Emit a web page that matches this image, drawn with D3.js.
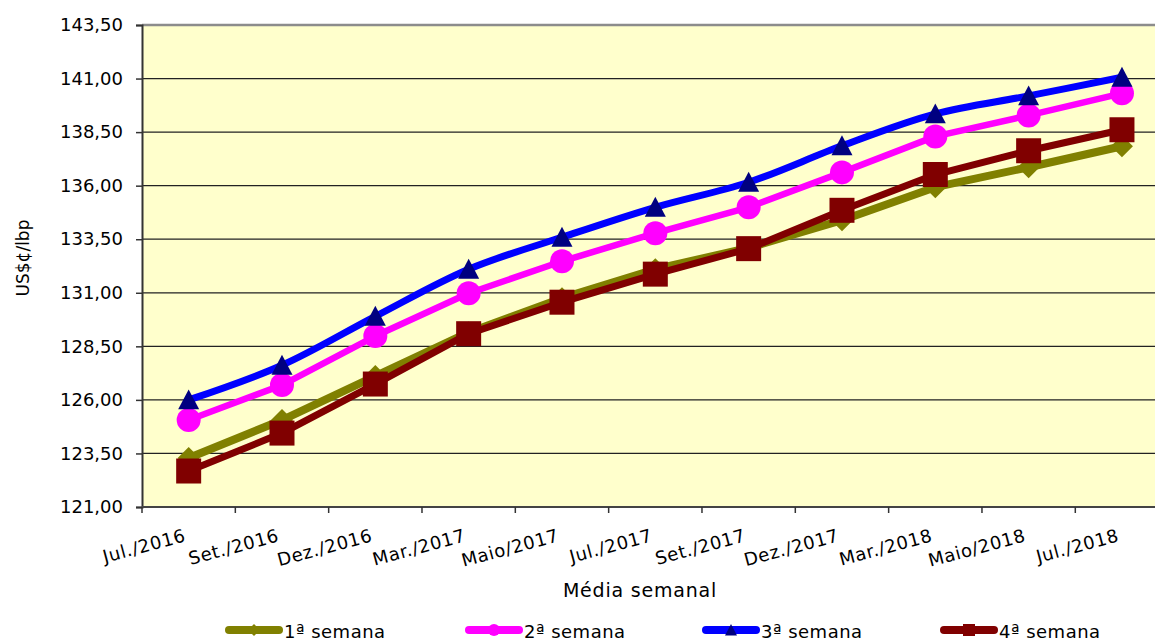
<!DOCTYPE html>
<html>
<head>
<meta charset="utf-8">
<script src="https://cdn.jsdelivr.net/npm/d3@7"></script>
<style>
  body { margin: 0; background: #fff; }
  svg { display: block; font-family: "DejaVu Sans", sans-serif; }
</style>
</head>
<body>
<svg id="chart" width="1155" height="641"></svg>
<script>
// categories (x axis) and the four weekly series, US$c/lbp
var months = ['Jul./2016', 'Set./2016', 'Dez./2016', 'Mar./2017', 'Maio/2017', 'Jul./2017',
              'Set./2017', 'Dez./2017', 'Mar./2018', 'Maio/2018', 'Jul./2018'];
var week1 = [123.29, 125.06, 127.11, 129.15, 130.75, 132.10, 133.10, 134.39, 135.93, 136.86, 137.84];
var week2 = [125.06, 126.69, 128.98, 130.98, 132.47, 133.78, 134.99, 136.62, 138.30, 139.28, 140.31];
var week3 = [126.00, 127.62, 129.90, 132.10, 133.59, 134.99, 136.16, 137.86, 139.35, 140.19, 141.06];
var week4 = [122.68, 124.45, 126.74, 129.09, 130.56, 131.87, 133.06, 134.85, 136.52, 137.63, 138.61];
var seriesNames = ['1ª semana', '2ª semana', '3ª semana', '4ª semana'];
var yTicks = [121, 123.5, 126, 128.5, 131, 133.5, 136, 138.5, 141, 143.5];

var svg = d3.select('#chart');

// plot area (the right edge runs past the picture, as in the original)
var plot = {l: 142, t: 25, b: 507};
plot.r = plot.l + months.length * 93.33;

var x = d3.scaleBand().domain(months).range([plot.l, plot.r]);
var y = d3.scaleLinear().domain([121, 143.5]).range([plot.b, plot.t]);
var cx = function(i) { return x(months[i]) + x.bandwidth() / 2; };

var fmt = function(v) { return d3.format('.2f')(v).replace('.', ','); };

// background
svg.append('rect')
    .attr('x', plot.l).attr('y', plot.t)
    .attr('width', plot.r - plot.l).attr('height', plot.b - plot.t)
    .attr('fill', '#ffffcc');

// grid lines
svg.append('g').selectAll('line')
    .data(yTicks.slice(1, -1))
    .enter().append('line')
    .attr('x1', plot.l).attr('x2', plot.r)
    .attr('y1', function(d) { return y(d); }).attr('y2', function(d) { return y(d); })
    .attr('stroke', '#222').attr('stroke-width', 1.3);

// top border
svg.append('line')
    .attr('x1', plot.l).attr('x2', plot.r).attr('y1', plot.t).attr('y2', plot.t)
    .attr('stroke', '#8c8c8c').attr('stroke-width', 2.5);

// y axis
var yAxis = d3.axisLeft(y).tickValues(yTicks).tickFormat(fmt).tickSize(6).tickPadding(13);
var yG = svg.append('g').attr('transform', 'translate(' + plot.l + ',0)').call(yAxis);
yG.select('.domain').attr('stroke', '#333').attr('stroke-width', 2);
yG.selectAll('.tick line').attr('stroke', '#333').attr('stroke-width', 1.5);
yG.selectAll('.tick text').attr('font-size', 18).attr('fill', '#000')
    .attr('font-family', '"DejaVu Sans", sans-serif');

// x axis: ticks on the category boundaries
var xG = svg.append('g');
xG.append('line')
    .attr('x1', plot.l).attr('x2', plot.r).attr('y1', plot.b).attr('y2', plot.b)
    .attr('stroke', '#444').attr('stroke-width', 2);
xG.selectAll('.xt')
    .data(months)
    .enter().append('line')
    .attr('class', 'xt')
    .attr('x1', function(d) { return x(d); }).attr('x2', function(d) { return x(d); })
    .attr('y1', plot.b).attr('y2', plot.b + 6)
    .attr('stroke', '#333').attr('stroke-width', 1.5);
xG.selectAll('.xl')
    .data(months)
    .enter().append('text')
    .attr('class', 'xl')
    .attr('transform', function(d, i) { return 'translate(' + (cx(i) - 2) + ',541) rotate(-15)'; })
    .attr('text-anchor', 'end')
    .attr('font-size', 18)
    .attr('letter-spacing', 0.6)
    .text(function(d) { return d; });

// axis titles
svg.append('text')
    .attr('x', 640).attr('y', 597)
    .attr('text-anchor', 'middle')
    .attr('font-size', 19)
    .attr('letter-spacing', 0.8)
    .text('Média semanal');
svg.append('text')
    .attr('transform', 'translate(29,258) rotate(-90)')
    .attr('text-anchor', 'middle')
    .attr('font-size', 17)
    .text('US$¢/lbp');

// series drawing
var series = [
    {name: seriesNames[0], values: week1, line: '#808000', mark: '#808000', shape: 'diamond', width: 8, curve: d3.curveLinear},
    {name: seriesNames[1], values: week2, line: '#ff00ff', mark: '#ff00ff', shape: 'circle', width: 6.5, curve: d3.curveLinear},
    {name: seriesNames[2], values: week3, line: '#0000ff', mark: '#000080', shape: 'triangle', width: 7, curve: d3.curveCatmullRom},
    {name: seriesNames[3], values: week4, line: '#800000', mark: '#800000', shape: 'square', width: 7, curve: d3.curveLinear}
];

function markerPath(shape, s) {
    if (shape === 'diamond') return 'M0,' + (-s) + 'L' + s + ',0L0,' + s + 'L' + (-s) + ',0Z';
    if (shape === 'square') return 'M' + (-s) + ',' + (-s) + 'H' + s + 'V' + s + 'H' + (-s) + 'Z';
    if (shape === 'triangle') return 'M0,' + (-s) + 'L' + s + ',' + (s * 0.9) + 'L' + (-s) + ',' + (s * 0.9) + 'Z';
    return d3.symbol().type(d3.symbolCircle).size(Math.PI * s * s)();
}
var markSize = {diamond: 11, square: 12.5, triangle: 10.5, circle: 12};

series.forEach(function(s) {
    var line = d3.line()
        .x(function(d, i) { return cx(i); })
        .y(function(d) { return y(d); })
        .curve(s.curve);
    var g = svg.append('g');
    g.append('path')
        .attr('d', line(s.values))
        .attr('fill', 'none')
        .attr('stroke', s.line)
        .attr('stroke-width', s.width)
        .attr('stroke-linejoin', 'round');
    g.selectAll('path.m')
        .data(s.values)
        .enter().append('path')
        .attr('class', 'm')
        .attr('transform', function(d, i) { return 'translate(' + cx(i) + ',' + y(d) + ')'; })
        .attr('d', markerPath(s.shape, markSize[s.shape]))
        .attr('fill', s.mark);
});

// legend
var legendX = [225, 465, 702, 940];
var legY = 630;
var leg = svg.append('g').selectAll('g')
    .data(series)
    .enter().append('g')
    .attr('transform', function(d, i) { return 'translate(' + legendX[i] + ',' + legY + ')'; });
leg.append('line')
    .attr('x1', 4).attr('x2', 54).attr('y1', 0).attr('y2', 0)
    .attr('stroke', function(d) { return d.line; })
    .attr('stroke-width', 8)
    .attr('stroke-linecap', 'round');
leg.append('path')
    .attr('transform', 'translate(29,0)')
    .attr('d', function(d) { return markerPath(d.shape, 6); })
    .attr('fill', function(d) { return d.mark; });
leg.append('text')
    .attr('x', 59).attr('y', 8)
    .attr('font-size', 18)
    .attr('letter-spacing', 0.5)
    .text(function(d) { return d.name; });
</script>
</body>
</html>
